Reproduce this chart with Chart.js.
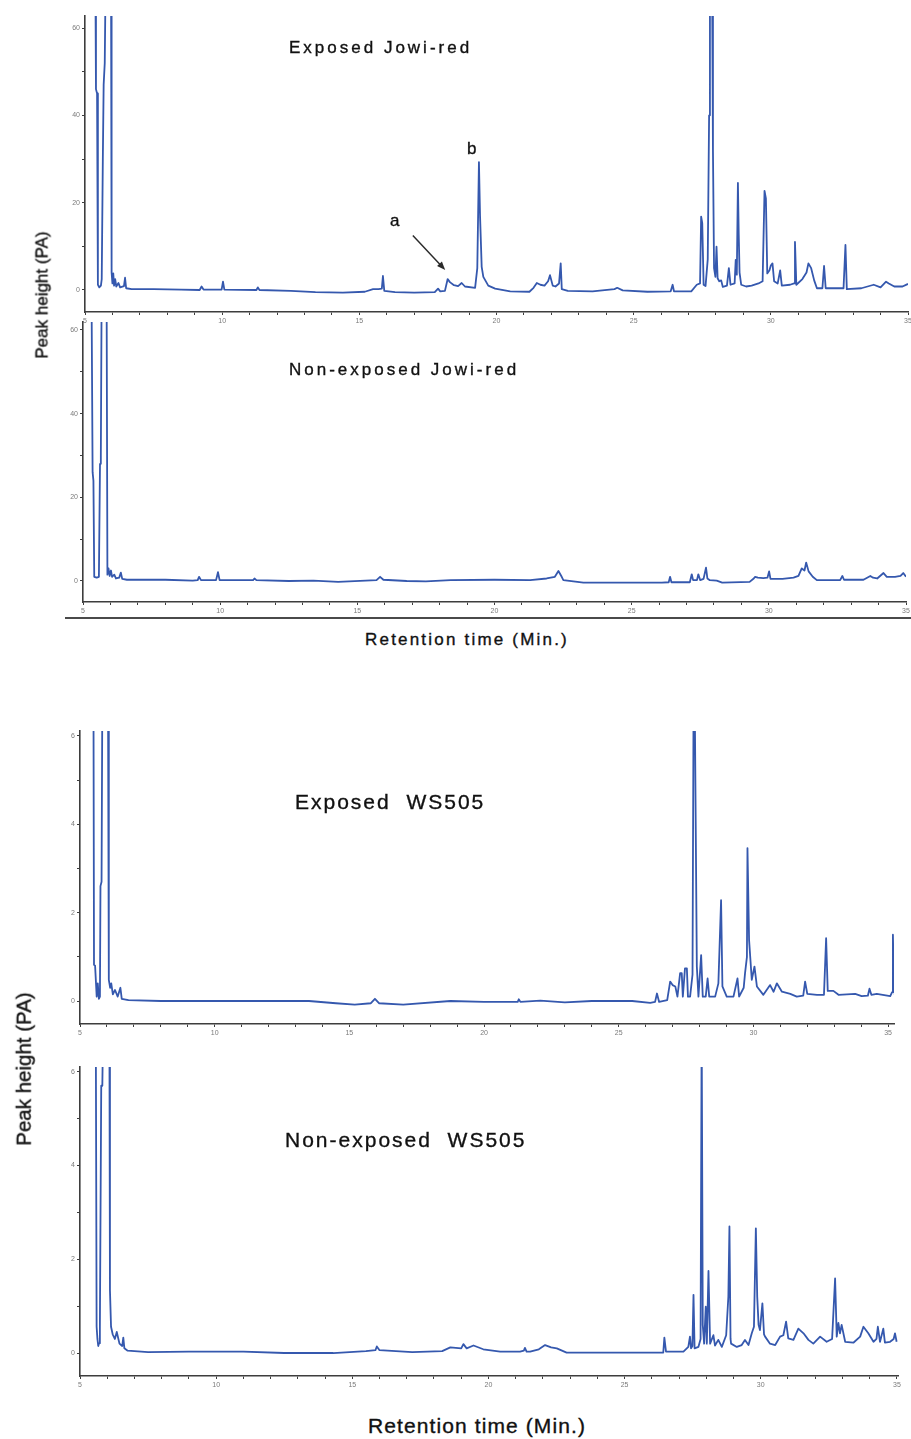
<!DOCTYPE html>
<html>
<head>
<meta charset="utf-8">
<script src="https://cdn.jsdelivr.net/npm/chart.js@4.4.1/dist/chart.umd.min.js"></script>
<style>
  body { margin: 0; background: #fff; }
  #wrap { position: relative; width: 911px; height: 1439px; overflow: hidden; background: #fff;
          font-family: "Liberation Sans", Arial, sans-serif; color: #111; }
  #wrap canvas { position: absolute; left: 0; }
  .lbl { position: absolute; white-space: pre; line-height: 1; -webkit-text-stroke: 0.35px #111; }
  .ytitle { position: absolute; white-space: nowrap; line-height: 1; -webkit-text-stroke: 0.35px #111;
            transform: translate(-50%, -50%) rotate(-90deg); }
  .frame { position: absolute; background: #4a4a4a; }
</style>
</head>
<body>
<div id="wrap">
  <canvas id="jowiExp" width="940" height="332" style="top:0px"></canvas>
  <canvas id="jowiNon" width="940" height="312" style="top:310px"></canvas>
  <canvas id="wsExp" width="940" height="330" style="top:715px"></canvas>
  <canvas id="wsNon" width="940" height="350" style="top:1050px"></canvas>

  <div class="lbl" style="left:289px; top:39px; font-size:17px; letter-spacing:3px;">Exposed Jowi-red</div>
  <div class="lbl" style="left:390px; top:212px; font-size:17px;">a</div>
  <div class="lbl" style="left:467px; top:140px; font-size:17px;">b</div>
  <div class="lbl" style="left:289px; top:361px; font-size:17px; letter-spacing:3px;">Non-exposed Jowi-red</div>
  <div class="ytitle" style="left:42px; top:295px; font-size:17px;">Peak height (PA)</div>
  <div class="lbl" style="left:365px; top:631px; font-size:17px; letter-spacing:2.2px;">Retention time (Min.)</div>
  <div class="frame" style="left:65px; top:617px; width:846px; height:2px;"></div>

  <div class="lbl" style="left:295px; top:791px; font-size:21px; letter-spacing:2px;">Exposed  WS505</div>
  <div class="lbl" style="left:285px; top:1129px; font-size:21px; letter-spacing:2px;">Non-exposed  WS505</div>
  <div class="ytitle" style="left:24px; top:1069px; font-size:20.5px;">Peak height (PA)</div>
  <div class="lbl" style="left:368px; top:1415px; font-size:21px; letter-spacing:1.1px;">Retention time (Min.)</div>
</div>

<script>
// retention time (min) and peak height
const jowiExpTime = [
  5.38, 5.40, 5.44, 5.47, 5.52, 5.58, 5.61, 5.65, 5.68, 5.72, 5.75, 5.95, 5.97, 6.00, 6.03, 6.06, 6.10, 6.14, 6.22, 6.28,
  6.42, 6.46, 6.50, 6.70, 7.5, 8.5, 9.18, 9.25, 9.32, 9.98, 10.03, 10.08, 11.25, 11.30, 11.36, 12.5, 13.4, 14.4, 15.2, 15.5,
  15.7, 15.82, 15.86, 15.91, 16.3, 17.0, 17.75, 17.87, 17.95, 18.12, 18.22, 18.30, 18.45, 18.60, 18.73, 18.85, 19.22, 19.30, 19.36, 19.40,
  19.46, 19.52, 19.7, 19.95, 20.5, 21.2, 21.35, 21.47, 21.6, 21.75, 21.88, 21.95, 22.05, 22.15, 22.28, 22.34, 22.38, 22.6, 23.5, 24.3,
  24.4, 24.6, 25.5, 26.35, 26.42, 26.47, 27.1, 27.3, 27.42, 27.46, 27.50, 27.55, 27.62, 27.70, 27.75, 27.78, 27.86, 27.89, 27.93, 27.98,
  28.02, 28.06, 28.12, 28.19, 28.25, 28.40, 28.47, 28.53, 28.68, 28.72, 28.76, 28.80, 28.83, 28.86, 28.92, 29.1, 29.3, 29.55, 29.70, 29.77,
  29.82, 29.87, 29.95, 30.00, 30.06, 30.12, 30.25, 30.34, 30.40, 30.7, 30.85, 30.88, 30.93, 31.15, 31.30, 31.37, 31.47, 31.58, 31.68, 31.88,
  31.94, 32.0, 32.65, 32.72, 32.77, 33.3, 33.75, 34.0, 34.2, 34.3, 34.5, 34.8, 35.0
];
const jowiExpHeight = [
  70, 46, 45, 1.2, 0.6, 1.0, 2.5, 30, 47, 52, 70, 70, 4, 1.5, 3.8, 1.0, 2.5, 0.8, 1.6, 0.6,
  0.9, 2.8, 0.4, 0.2, 0.2, 0.1, 0.0, 0.8, 0.1, 0.1, 1.9, 0.1, 0.0, 0.6, 0.0, -0.2, -0.5, -0.6, -0.4, 0.2,
  0.2, 0.3, 3.2, -0.2, -0.5, -0.6, -0.5, 0.3, -0.3, -0.2, 2.5, 1.8, 1.1, 0.9, 1.6, 0.8, 0.5, 5.0, 29.3, 17,
  5.3, 3.0, 1.0, 0.3, -0.3, -0.4, 0.5, 1.6, 1.2, 1.0, 2.0, 3.4, 1.0, 0.8, 1.5, 6.1, 0.2, -0.2, -0.3, 0.2,
  0.5, -0.1, -0.4, -0.3, 1.2, -0.3, -0.3, 1.2, 1.5, 16.8, 15.3, 1.2, 0.9, 7.0, 40, 70, 70, 32, 5, 3,
  9.9, 2.7, 2.0, 2.2, 0.7, 1.0, 5.0, 1.2, 1.5, 6.9, 3.5, 24.5, 12.7, 4.0, 1.2, 0.8, 1.0, 1.5, 2.0, 22.7,
  21.0, 3.8, 4.5, 5.6, 6.1, 2.0, 1.5, 4.5, 1.0, 1.2, 1.5, 11.0, 1.2, 2.5, 4.0, 6.1, 5.0, 2.2, 0.4, 0.4,
  5.5, 0.4, 0.4, 10.3, 0.2, 0.4, 1.2, 0.6, 1.9, 1.5, 0.8, 0.8, 1.4
];

const jowiNonTime = [
  5.31, 5.35, 5.38, 5.41, 5.50, 5.58, 5.62, 5.65, 5.68, 5.86, 5.89, 5.93, 5.97, 6.02, 6.06, 6.14, 6.20, 6.32, 6.38, 6.43,
  6.6, 8.0, 9.0, 9.18, 9.23, 9.30, 9.85, 9.92, 9.98, 11.2, 11.25, 11.32, 12.5, 13.4, 14.3, 15.7, 15.83, 15.95, 16.8, 17.5,
  18.4, 20.0, 21.3, 21.9, 22.2, 22.33, 22.45, 22.51, 23.24, 26.1, 26.35, 26.40, 26.45, 27.12, 27.19, 27.24, 27.38, 27.43, 27.50, 27.62,
  27.67, 27.71, 27.76, 27.85, 28.1, 28.3, 29.3, 29.45, 29.50, 29.6, 29.8, 29.95, 30.01, 30.06, 30.5, 30.9, 31.08, 31.20, 31.30, 31.36,
  31.45, 31.6, 31.75, 32.6, 32.68, 32.74, 33.45, 33.7, 33.8, 33.95, 34.18, 34.3, 34.6, 34.8, 34.9, 35.0
];
const jowiNonHeight = [
  70, 26, 24, 1.0, 0.8, 1.0, 28, 30, 70, 70, 1.5, 3.0, 1.2, 2.5, 1.0, 1.5, 0.6, 0.8, 2.0, 0.5,
  0.3, 0.3, 0.1, 0.2, 1.0, 0.2, 0.2, 2.1, 0.2, 0.2, 0.6, 0.2, 0.0, 0.1, -0.2, 0.2, 1.0, 0.3, 0.0, -0.1,
  0.2, 0.3, 0.2, 0.6, 1.0, 2.4, 1.0, 0.2, -0.4, -0.4, -0.3, 1.0, -0.3, -0.3, 1.6, 0.2, 0.2, 1.6, 0.2, 0.5,
  2.0, 3.2, 0.6, 0.2, 0.1, -0.4, -0.2, 0.6, 1.0, 0.8, 0.7, 0.8, 2.3, 0.5, 0.5, 0.8, 1.2, 3.0, 2.5, 4.4,
  2.3, 1.0, 0.2, 0.2, 1.2, 0.3, 0.3, 1.2, 0.8, 0.6, 1.9, 1.0, 1.0, 1.2, 1.9, 1.0
];

const wsExpTime = [
  5.50, 5.52, 5.56, 5.62, 5.66, 5.70, 5.74, 5.76, 5.80, 5.83, 6.04, 6.07, 6.12, 6.16, 6.22, 6.30, 6.40, 6.50, 6.55, 6.8,
  8.0, 10.0, 12.0, 13.5, 14.5, 15.2, 15.8, 15.95, 16.1, 17.0, 18.75, 20.0, 21.25, 21.29, 21.35, 22.09, 23.0, 24.0, 25.5, 26.17,
  26.35, 26.42, 26.50, 26.80, 26.91, 27.00, 27.10, 27.18, 27.28, 27.34, 27.38, 27.46, 27.53, 27.57, 27.65, 27.74, 27.78, 27.82, 27.90, 27.96,
  28.06, 28.12, 28.23, 28.30, 28.36, 28.58, 28.70, 28.74, 28.80, 28.85, 29.01, 29.26, 29.41, 29.47, 29.64, 29.69, 29.76, 29.78, 29.84, 29.94,
  30.04, 30.13, 30.37, 30.62, 30.75, 30.87, 31.06, 31.37, 31.61, 31.85, 31.92, 32.0, 32.36, 32.62, 32.70, 32.76, 32.97, 33.16, 33.78, 34.02,
  34.25, 34.31, 34.38, 34.58, 35.08, 35.15, 35.18, 35.21, 35.25
];
const wsExpHeight = [
  7, 0.82, 0.8, 0.1, 0.4, 0.05, 0.1, 2.6, 2.7, 7, 7, 0.48, 0.3, 0.4, 0.15, 0.25, 0.1, 0.3, 0.05, 0.02,
  0.0, 0.0, 0.0, 0.0, -0.05, -0.08, -0.05, 0.05, -0.05, -0.08, 0.0, -0.02, -0.02, 0.04, -0.02, 0.01, -0.03, 0.0, 0.0, -0.04,
  -0.02, 0.17, -0.02, 0.02, 0.44, 0.36, 0.33, 0.1, 0.63, 0.63, 0.1, 0.74, 0.74, 0.1, 0.1, 0.6, 7, 7, 0.78, 0.1,
  1.04, 0.1, 0.1, 0.51, 0.1, 0.1, 0.4, 1.15, 2.28, 0.33, 0.1, 0.1, 0.51, 0.1, 0.3, 0.63, 1.0, 3.46, 1.38, 0.48,
  0.78, 0.33, 0.14, 0.36, 0.21, 0.40, 0.21, 0.16, 0.1, 0.12, 0.44, 0.16, 0.14, 0.14, 1.42, 0.23, 0.23, 0.14, 0.16, 0.11,
  0.12, 0.28, 0.14, 0.16, 0.11, 0.2, 1.5, 0.55, 0.14
];

const wsNonTime = [
  5.58, 5.61, 5.64, 5.67, 5.70, 5.73, 5.78, 5.82, 5.85, 6.08, 6.10, 6.14, 6.20, 6.28, 6.35, 6.45, 6.55, 6.59, 6.63, 6.75,
  7.5, 9.0, 11.0, 12.5, 14.3, 15.5, 15.85, 15.9, 16.0, 17.2, 18.3, 18.6, 19.0, 19.08, 19.2, 19.45, 19.81, 20.43, 21.16, 21.3,
  21.34, 21.40, 21.53, 21.85, 22.08, 22.3, 22.51, 22.87, 24.5, 26.3, 26.42, 26.46, 26.52, 27.16, 27.34, 27.40, 27.44, 27.49, 27.53, 27.57,
  27.71, 27.79, 27.83, 27.87, 27.92, 27.98, 28.02, 28.08, 28.14, 28.26, 28.32, 28.44, 28.57, 28.73, 28.81, 28.85, 28.89, 28.91, 29.12, 29.3,
  29.42, 29.55, 29.67, 29.75, 29.82, 29.87, 29.92, 29.97, 30.06, 30.12, 30.16, 30.34, 30.53, 30.71, 30.83, 30.93, 31.01, 31.2, 31.38, 31.57,
  31.75, 31.93, 32.18, 32.42, 32.62, 32.73, 32.79, 32.85, 32.91, 32.97, 33.10, 33.4, 33.65, 33.77, 33.95, 34.14, 34.25, 34.30, 34.38, 34.5,
  34.56, 34.75, 34.88, 34.93, 34.99
];
const wsNonHeight = [
  7, 0.56, 0.3, 0.15, 0.21, 0.56, 5.7, 5.7, 7, 7, 1.34, 0.56, 0.4, 0.3, 0.45, 0.2, 0.15, 0.33, 0.1, 0.05,
  0.02, 0.03, 0.03, 0.0, 0.0, 0.04, 0.06, 0.14, 0.06, 0.02, 0.04, 0.12, 0.1, 0.19, 0.1, 0.16, 0.08, 0.03, 0.03, 0.05,
  0.11, 0.03, 0.03, 0.08, 0.17, 0.12, 0.1, 0.01, 0.01, 0.01, 0.01, 0.33, 0.03, 0.03, 0.13, 0.35, 0.1, 0.15, 1.24, 0.1,
  0.13, 0.3, 7, 0.6, 0.2, 0.99, 0.2, 1.75, 0.2, 0.38, 0.16, 0.28, 0.13, 0.38, 1.2, 2.70, 0.3, 0.2, 0.13, 0.17,
  0.28, 0.17, 0.42, 0.56, 2.66, 1.2, 0.6, 0.49, 1.06, 0.4, 0.35, 0.2, 0.17, 0.35, 0.38, 0.67, 0.31, 0.28, 0.52, 0.42,
  0.28, 0.2, 0.35, 0.24, 0.3, 1.59, 0.35, 0.64, 0.42, 0.6, 0.24, 0.22, 0.35, 0.56, 0.42, 0.24, 0.3, 0.56, 0.24, 0.52,
  0.22, 0.24, 0.3, 0.42, 0.24
];

// tick labels
const timeLabels = [5, 10, 15, 20, 25, 30, 35];
const jowiHeightLabels = [0, 20, 40, 60];
const wsHeightLabels = [0, 2, 4, 6];

// arrow for peak "a" (time, height)
const arrowFrom = [16.95, 12.5];
const arrowTo = [18.13, 4.6];

const traceColor = '#3558ae';
const axisColor = '#3d3d3d';
const tickFont = { family: 'Liberation Sans', size: 7 };

function hasLabel(list, v) {
  return list.some(l => Math.abs(l - v) < 1e-6);
}

const arrowPlugin = {
  id: 'peakArrow',
  afterDraw(chart) {
    const ctx = chart.ctx;
    const x0 = chart.scales.x.getPixelForValue(arrowFrom[0]);
    const y0 = chart.scales.y.getPixelForValue(arrowFrom[1]);
    const x1 = chart.scales.x.getPixelForValue(arrowTo[0]);
    const y1 = chart.scales.y.getPixelForValue(arrowTo[1]);
    const ang = Math.atan2(y1 - y0, x1 - x0);
    const head = 9;
    ctx.save();
    ctx.strokeStyle = '#2a2a2a';
    ctx.fillStyle = '#2a2a2a';
    ctx.lineWidth = 1.5;
    ctx.beginPath();
    ctx.moveTo(x0, y0);
    ctx.lineTo(x1 - Math.cos(ang) * head * 0.8, y1 - Math.sin(ang) * head * 0.8);
    ctx.stroke();
    ctx.beginPath();
    ctx.moveTo(x1, y1);
    ctx.lineTo(x1 - head * Math.cos(ang - 0.38), y1 - head * Math.sin(ang - 0.38));
    ctx.lineTo(x1 - head * Math.cos(ang + 0.38), y1 - head * Math.sin(ang + 0.38));
    ctx.closePath();
    ctx.fill();
    ctx.restore();
  }
};

function drawPanel(id, times, heights, box, plugins) {
  const points = times.map((t, i) => ({ x: t, y: heights[i] }));
  return new Chart(document.getElementById(id), {
    type: 'line',
    data: {
      datasets: [{
        data: points,
        borderColor: traceColor,
        borderWidth: 1.8,
        borderJoinStyle: 'round',
        pointRadius: 0,
        tension: 0,
        fill: false
      }]
    },
    options: {
      responsive: false,
      animation: false,
      devicePixelRatio: 1,
      layout: { padding: { top: box.padTop, right: box.padRight, left: 0, bottom: 0 } },
      plugins: { legend: { display: false }, tooltip: { enabled: false } },
      scales: {
        x: {
          type: 'linear',
          min: box.xMin,
          max: box.xMax,
          afterFit: s => { s.height = box.xHeight; },
          ticks: {
            stepSize: 1,
            autoSkip: false,
            maxRotation: 0,
            includeBounds: false,
            padding: 2,
            font: tickFont,
            color: '#7a7a7a',
            callback: v => hasLabel(timeLabels, v) ? String(v) : ''
          },
          grid: { drawOnChartArea: false, drawTicks: true, tickLength: 3, color: axisColor, lineWidth: 1 },
          border: { display: true, color: axisColor, width: 1.6 }
        },
        y: {
          type: 'linear',
          min: box.yMin,
          max: box.yMax,
          afterFit: s => { s.width = box.yWidth; },
          ticks: {
            stepSize: box.yStep,
            includeBounds: false,
            padding: 2,
            font: tickFont,
            color: '#7a7a7a',
            callback: v => hasLabel(box.yLabels, v) ? String(v) : ''
          },
          grid: { drawOnChartArea: false, drawTicks: true, tickLength: 3, color: axisColor, lineWidth: 1 },
          border: { display: true, color: axisColor, width: 1.6 }
        }
      }
    },
    plugins: plugins || []
  });
}

drawPanel('jowiExp', jowiExpTime, jowiExpHeight, {
  padTop: 16, padRight: 32, xHeight: 20, yWidth: 85,
  xMin: 5, xMax: 35, yMin: -5.04, yMax: 62.75, yStep: 10, yLabels: jowiHeightLabels
}, [arrowPlugin]);

drawPanel('jowiNon', jowiNonTime, jowiNonHeight, {
  padTop: 12, padRight: 34, xHeight: 20, yWidth: 83,
  xMin: 5, xMax: 35, yMin: -5.02, yMax: 61.9, yStep: 10, yLabels: jowiHeightLabels
});

drawPanel('wsExp', wsExpTime, wsExpHeight, {
  padTop: 16, padRight: 46, xHeight: 21, yWidth: 80,
  xMin: 5, xMax: 35.22, yMin: -0.52, yMax: 6.11, yStep: 1, yLabels: wsHeightLabels
});

drawPanel('wsNon', wsNonTime, wsNonHeight, {
  padTop: 17, padRight: 42, xHeight: 24, yWidth: 80,
  xMin: 5, xMax: 35.04, yMin: -0.49, yMax: 6.1, yStep: 1, yLabels: wsHeightLabels
});
</script>
</body>
</html>
